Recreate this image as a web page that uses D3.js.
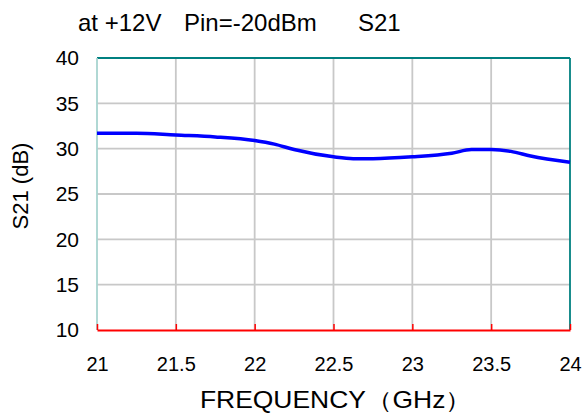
<!DOCTYPE html>
<html>
<head>
<meta charset="utf-8">
<script src="https://cdn.jsdelivr.net/npm/d3@7"></script>
<style>
  body { margin: 0; background: #fff; }
  text { font-family: "Liberation Sans", Arial, sans-serif; fill: #000; }
</style>
</head>
<body>
<div id="chart"></div>
<script>
const freq = [21, 21.25, 21.5, 21.75, 22, 22.125, 22.25, 22.5, 22.625, 22.75, 23, 23.25, 23.375, 23.5, 23.625, 23.75, 24];
const s21 = [31.7, 31.7, 31.5, 31.3, 30.9, 30.5, 29.9, 29.1, 28.9, 28.9, 29.1, 29.5, 29.9, 29.9, 29.7, 29.2, 28.5];
const xTicks = [21, 21.5, 22, 22.5, 23, 23.5, 24];
const yTicks = [10, 15, 20, 25, 30, 35, 40];
const titleParts = ["at +12V", "Pin=-20dBm", "S21"];

const width = 583;
const height = 415;
const plotLeft = 97, plotRight = 570, plotTop = 58, plotBottom = 330;

const svg = d3.select("#chart")
    .append("svg")
    .attr("width", width)
    .attr("height", height);

const x = d3.scaleLinear().domain([21, 24]).range([plotLeft, plotRight]);
const y = d3.scaleLinear().domain([10, 40]).range([plotBottom, plotTop]);

// grid
svg.append("g")
    .selectAll("line")
    .data(xTicks.slice(1, -1))
    .enter().append("line")
    .attr("x1", d => x(d)).attr("x2", d => x(d))
    .attr("y1", plotTop).attr("y2", plotBottom)
    .attr("stroke", "#c8c8c8").attr("stroke-width", 1.8);

svg.append("g")
    .selectAll("line")
    .data(yTicks.slice(1, -1))
    .enter().append("line")
    .attr("x1", plotLeft).attr("x2", plotRight)
    .attr("y1", d => y(d)).attr("y2", d => y(d))
    .attr("stroke", "#c8c8c8").attr("stroke-width", 1.8);

// frame
svg.append("line").attr("x1", plotLeft).attr("x2", plotRight).attr("y1", plotTop).attr("y2", plotTop)
    .attr("stroke", "#008080").attr("stroke-width", 1.8);
svg.append("line").attr("x1", plotRight).attr("x2", plotRight).attr("y1", plotTop).attr("y2", plotBottom)
    .attr("stroke", "#008080").attr("stroke-width", 1.8);
svg.append("line").attr("x1", plotLeft).attr("x2", plotLeft).attr("y1", plotTop).attr("y2", plotBottom)
    .attr("stroke", "#a8d4d0").attr("stroke-width", 1.8);

// x axis (red, ticks pointing up)
const xAxis = svg.append("g")
    .attr("transform", `translate(0,${plotBottom})`)
    .call(d3.axisBottom(x).tickValues(xTicks).tickSizeInner(-6).tickSizeOuter(0).tickPadding(27)
        .tickFormat(d3.format("")));
xAxis.select(".domain").attr("stroke", "#ff0000").attr("stroke-width", 2);
xAxis.selectAll(".tick line").attr("stroke", "#ff0000").attr("stroke-width", 1.5);
xAxis.selectAll("text").style("font-size", "20px").attr("fill", "#000")
    .style("font-family", "Liberation Sans, Arial, sans-serif");

// y axis labels
const yAxis = svg.append("g")
    .attr("transform", `translate(${plotLeft},0)`)
    .call(d3.axisLeft(y).tickValues(yTicks).tickSize(0).tickPadding(18));
yAxis.select(".domain").remove();
yAxis.selectAll("text").style("font-size", "21px").attr("fill", "#000")
    .style("font-family", "Liberation Sans, Arial, sans-serif");

// curve
svg.append("path")
    .datum(freq.map((f, i) => [f, s21[i]]))
    .attr("fill", "none")
    .attr("stroke", "#0000ff")
    .attr("stroke-width", 3.5)
    .attr("d", d3.line().x(d => x(d[0])).y(d => y(d[1])).curve(d3.curveMonotoneX));

// titles
const titleX = [78, 184, 358];
svg.append("g")
    .selectAll("text")
    .data(titleParts)
    .enter().append("text")
    .attr("x", (d, i) => titleX[i]).attr("y", 31)
    .style("font-size", "24px")
    .text(d => d);

svg.append("text")
    .attr("transform", "translate(336,408) scale(1.15,1)")
    .attr("text-anchor", "middle")
    .style("font-size", "23px")
    .text("FREQUENCY（GHz）");

svg.append("text")
    .attr("transform", "translate(28,186) rotate(-90)")
    .attr("text-anchor", "middle")
    .style("font-size", "22px")
    .text("S21 (dB)");
</script>
</body>
</html>
